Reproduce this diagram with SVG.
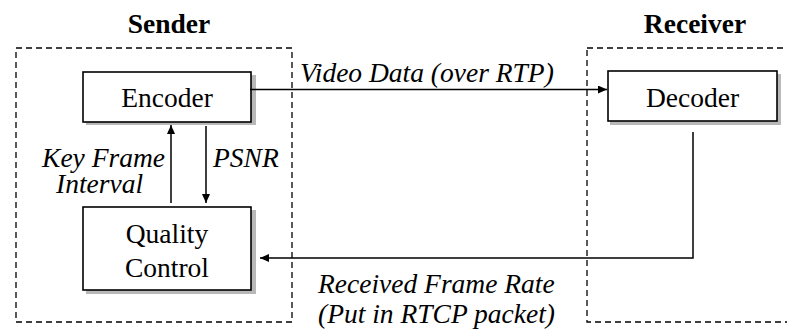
<svg xmlns="http://www.w3.org/2000/svg" width="787" height="331" viewBox="0 0 787 331">
<defs>
<style>
text{font-family:"Liberation Serif",Tinos,"Times New Roman",Times,"DejaVu Serif",serif;font-size:27.5px;fill:#000}
.title{font-weight:bold;text-anchor:middle}
.lbl{font-style:italic}
.c{text-anchor:middle}
.group{fill:none;stroke:#000;stroke-width:1.3;stroke-dasharray:6,4}
.box{fill:#fff;stroke:#000;stroke-width:1.6}
.shadow{fill:#b8b8b8}
.conn{fill:none;stroke:#000;stroke-width:1.5}
</style>
<marker id="ah" viewBox="0 0 10 10" refX="10" refY="5" markerWidth="9" markerHeight="8" markerUnits="userSpaceOnUse" orient="auto" preserveAspectRatio="none">
<path d="M0,0 L10,5 L0,10 z" fill="#000"/>
</marker>
</defs>
<rect width="787" height="331" fill="#fff"/>
<g id="sender">
<rect class="group" x="16" y="48" width="276" height="274"/>
<text class="title" x="169" y="33">Sender</text>
</g>
<g id="receiver">
<rect class="group" x="587" y="48" width="210" height="274"/>
<text class="title" x="695" y="33">Receiver</text>
</g>
<g id="encoder">
<rect class="shadow" x="86" y="75" width="170" height="50"/>
<rect class="box" x="83" y="72" width="168" height="50"/>
<text class="c" x="167" y="107">Encoder</text>
</g>
<g id="quality-control">
<rect class="shadow" x="86" y="210" width="170" height="84"/>
<rect class="box" x="83" y="207" width="168" height="83"/>
<text class="c" x="167" y="243">Quality</text>
<text class="c" x="167" y="277">Control</text>
</g>
<g id="decoder">
<rect class="shadow" x="610" y="74" width="171" height="51"/>
<rect class="box" x="608" y="71" width="169" height="50"/>
<text class="c" x="692.5" y="107">Decoder</text>
</g>
<g id="connectors">
<line class="conn" x1="250" y1="89.5" x2="607" y2="89.5" marker-end="url(#ah)"/>
<line class="conn" x1="171" y1="203" x2="171" y2="125" marker-end="url(#ah)"/>
<line class="conn" x1="206" y1="126" x2="206" y2="203" marker-end="url(#ah)"/>
<polyline class="conn" points="693,132 693,258 260,258" marker-end="url(#ah)"/>
</g>
<g id="labels">
<text class="lbl" x="300" y="82">Video Data (over RTP)</text>
<text class="lbl" x="165" y="167" text-anchor="end">Key Frame</text>
<text class="lbl" x="56" y="193">Interval</text>
<text class="lbl" x="213" y="167">PSNR</text>
<text class="lbl" x="318" y="293">Received Frame Rate</text>
<text class="lbl" x="318" y="323">(Put in RTCP packet)</text>
</g>
</svg>
